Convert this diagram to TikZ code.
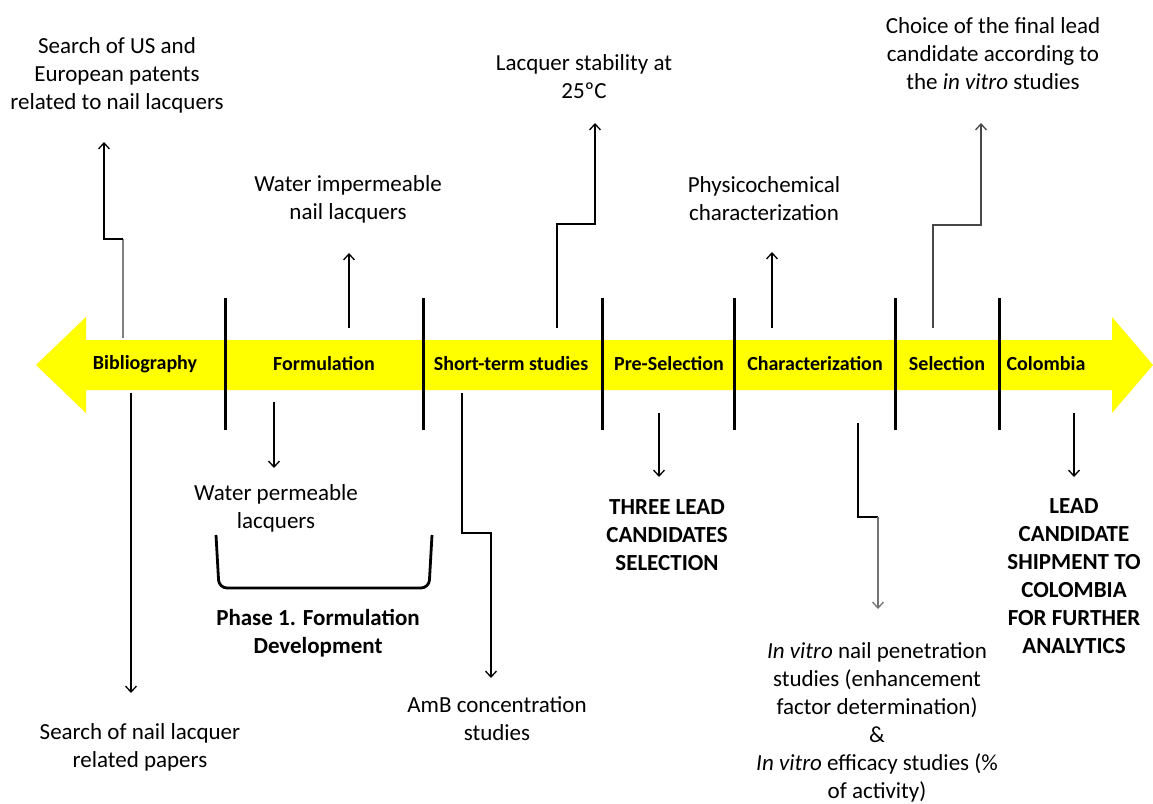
\documentclass[tikz,border=0pt]{standalone}
\usepackage{fontspec}
\setmainfont{Carlito}
\usetikzlibrary{arrows.meta}
\definecolor{band}{RGB}{255,255,0}
\begin{document}
\begin{tikzpicture}[x=1pt,y=-1pt,
 lab/.style={font=\fontsize{23}{28}\selectfont, align=center, inner sep=0pt},
 blab/.style={font=\fontsize{23}{28}\selectfont\bfseries, align=center, inner sep=0pt},
 phase/.style={font=\fontsize{20}{24}\selectfont\bfseries, inner sep=0pt},
 sepline/.style={line width=3pt},
 con/.style={line width=1.3pt},
 arr/.style={con, -{Straight Barb[length=6pt,width=11pt]}},
 gcon/.style={con, draw=black!50},
 bracket/.style={line width=2.8pt, rounded corners=8pt},
]
\useasboundingbox (0,0) rectangle (1153,803);
% timeline band
\fill[band] (36,365) -- (86,317) -- (86,340) -- (1112,340) -- (1112,317) -- (1153,365)
  -- (1112,413) -- (1112,390) -- (86,390) -- (86,413) -- cycle;
% phase labels
\node[phase] (bib) at (145,364) {Bibliography};
\node[phase] (form) at (324,364) {Formulation};
\node[phase] (short) at (511,364) {Short-term studies};
\node[phase] (pre) at (669,364) {Pre-Selection};
\node[phase] (char) at (815,364) {Characterization};
\node[phase] (sel) at (947,364) {Selection};
\node[phase] (col) at (1046,364) {Colombia};
% separators
\foreach \x/\n in {225/s1,423/s2,602/s3,734/s4,895/s5,999/s6}{
  \coordinate (\n a) at (\x,298);
  \coordinate (\n b) at (\x,430);
  \draw[sepline] (\n a) -- (\n b);
}
% annotation texts
\node[lab] (patents) at (117,75) {Search of US and\\European patents\\related to nail lacquers};
\node[lab] (papers) at (140,747) {Search of nail lacquer\\related papers};
\node[lab] (imperm) at (348,199) {Water impermeable\\nail lacquers};
\node[lab] (perm) at (276,508) {Water permeable\\lacquers};
\node[blab] (phase1) at (318,633) {Phase 1. Formulation\\Development};
\node[lab] (stab) at (584,77) {Lacquer stability at\\25ºC};
\node[lab] (amb) at (497,719) {AmB concentration\\studies};
\node[blab] (three) at (667,535) {THREE LEAD\\CANDIDATES\\SELECTION};
\node[lab] (physico) at (764,199) {Physicochemical\\characterization};
\node[lab] (invitro) at (877,722) {\textit{In vitro} nail penetration\\studies (enhancement\\factor determination)\\\&\\\textit{In vitro} efficacy studies (\%\\of activity)};
\node[lab] (choice) at (993,54) {Choice of the final lead\\candidate according to\\the \textit{in vitro} studies};
\node[blab] (ship) at (1074,576) {LEAD\\CANDIDATE\\SHIPMENT TO\\COLOMBIA\\FOR FURTHER\\ANALYTICS};
% connector end points
\coordinate (c1s) at (123,338); \coordinate (c1e) at (104,142);
\coordinate (c2s) at (131,393); \coordinate (c2e) at (131,693);
\coordinate (c3s) at (349,328); \coordinate (c3e) at (349,253);
\coordinate (c4s) at (274,402); \coordinate (c4e) at (274,468);
\coordinate (c5s) at (557,328); \coordinate (c5e) at (595,123);
\coordinate (c6s) at (462,393); \coordinate (c6e) at (491,678);
\coordinate (c7s) at (659,413); \coordinate (c7e) at (659,477);
\coordinate (c8s) at (772,328); \coordinate (c8e) at (772,252);
\coordinate (c9s) at (858,423); \coordinate (c9e) at (878,609);
\coordinate (c10s) at (933,328); \coordinate (c10e) at (981,123);
\coordinate (c11s) at (1074,413); \coordinate (c11e) at (1074,477);
% connectors
\draw[gcon] (c1s) -- (123,239);
\draw[arr] (123,239) -- (c1e |- 0,239) -- (c1e);
\draw[arr] (c2s) -- (c2e);
\draw[arr] (c3s) -- (c3e);
\draw[arr] (c4s) -- (c4e);
\draw[arr] (c5s) |- (c5e |- 0,224) -- (c5e);
\draw[arr] (c6s) |- (c6e |- 0,533) -- (c6e);
\draw[arr] (c7s) -- (c7e);
\draw[arr] (c8s) -- (c8e);
\draw[con] (c9s) |- (c9e |- 0,517);
\draw[arr, draw=black!55] (c9e |- 0,517) -- (c9e);
\draw[arr, draw=black!72] (c10s) |- (c10e |- 0,225) -- (c10e);
\draw[arr] (c11s) -- (c11e);
% bracket for phase 1
\coordinate (bl) at (216,535); \coordinate (br) at (432,535);
\draw[bracket] (bl) -- (219,588) -- (429,588) -- (br);
\end{tikzpicture}
\end{document}
